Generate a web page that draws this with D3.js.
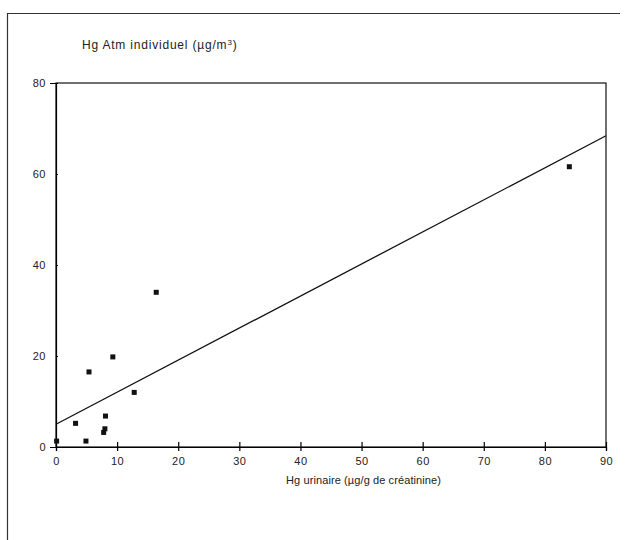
<!DOCTYPE html>
<html>
<head>
<meta charset="utf-8">
<script src="https://cdn.jsdelivr.net/npm/d3@7"></script>
<style>
    body { margin: 0; background: #fff; }
    svg text { font-family: "Liberation Sans", Arial, sans-serif; fill: #222; }
</style>
</head>
<body>
<div id="chart"></div>
<script>
// Hg urinaire (x) vs Hg atmosphérique individuel (y)
const urinary = [0.1, 4.9, 3.2, 5.4, 7.8, 8.0, 8.1, 9.3, 12.8, 16.4, 84.0];
const airborne = [1.3, 1.3, 5.2, 16.5, 3.2, 4.0, 6.8, 19.8, 12.0, 34.0, 61.6];

// regression line, read at both ends of the x range
const fitX = [0, 90];
const fitY = [5.0, 68.4];

const xTicks = [0, 10, 20, 30, 40, 50, 60, 70, 80, 90];
const yTicks = [0, 20, 40, 60, 80];

const svg = d3.select('#chart')
    .append('svg')
    .attr('width', 625)
    .attr('height', 540);

// page frame (left and top edges only)
svg.append('path')
    .attr('d', 'M7.5,540 V13.5 H620')
    .attr('fill', 'none')
    .attr('stroke', '#333')
    .attr('stroke-width', 1.2);

const margin = { top: 83, left: 56 };
const width = 550;
const height = 364;

const g = svg.append('g')
    .attr('transform', `translate(${margin.left},${margin.top})`);

const xScale = d3.scaleLinear().domain([0, 90]).range([0, width]);
const yScale = d3.scaleLinear().domain([0, 80]).range([height, 0]);

// plot box
g.append('rect')
    .attr('width', width)
    .attr('height', height)
    .attr('fill', 'none')
    .attr('stroke', '#111')
    .attr('stroke-width', 1.2);

// axes with ticks crossing the axis line
const xAxis = g.append('g')
    .attr('transform', `translate(0,${height})`)
    .call(d3.axisBottom(xScale).tickValues(xTicks).tickSize(4).tickPadding(6));
xAxis.selectAll('.tick line').attr('y1', -5).attr('stroke-width', 1.2);

const yAxis = g.append('g')
    .call(d3.axisLeft(yScale).tickValues(yTicks).tickSize(6).tickPadding(4));
yAxis.selectAll('.tick line').attr('x2', 2).attr('stroke-width', 1.2);

svg.selectAll('.domain').attr('stroke-width', 1.2);
svg.selectAll('.tick text')
    .style('font-size', '11px')
    .style('letter-spacing', '0.5px')
    .attr('fill', '#333');

// regression line
const line = d3.line()
    .x(d => xScale(d[0]))
    .y(d => yScale(d[1]));

g.append('path')
    .datum(d3.zip(fitX, fitY))
    .attr('d', line)
    .attr('fill', 'none')
    .attr('stroke', '#111')
    .attr('stroke-width', 1.3);

// points
g.selectAll('.dot')
    .data(d3.zip(urinary, airborne))
    .enter()
    .append('rect')
    .attr('class', 'dot')
    .attr('x', d => xScale(d[0]) - 2.5)
    .attr('y', d => yScale(d[1]) - 2.5)
    .attr('width', 5)
    .attr('height', 5)
    .attr('fill', '#111');

// axis titles
const yTitle = svg.append('text')
    .attr('x', 82)
    .attr('y', 49)
    .style('font-size', '12px')
    .style('letter-spacing', '0.8px');
yTitle.append('tspan').text('Hg Atm individuel (µg/m');
yTitle.append('tspan').attr('dy', -4).style('font-size', '8px').text('3');
yTitle.append('tspan').attr('dy', 4).text(')');

svg.append('text')
    .attr('x', 286)
    .attr('y', 484)
    .style('font-size', '11px')
    .style('letter-spacing', '0.1px')
    .text('Hg urinaire (µg/g de créatinine)');
</script>
</body>
</html>
